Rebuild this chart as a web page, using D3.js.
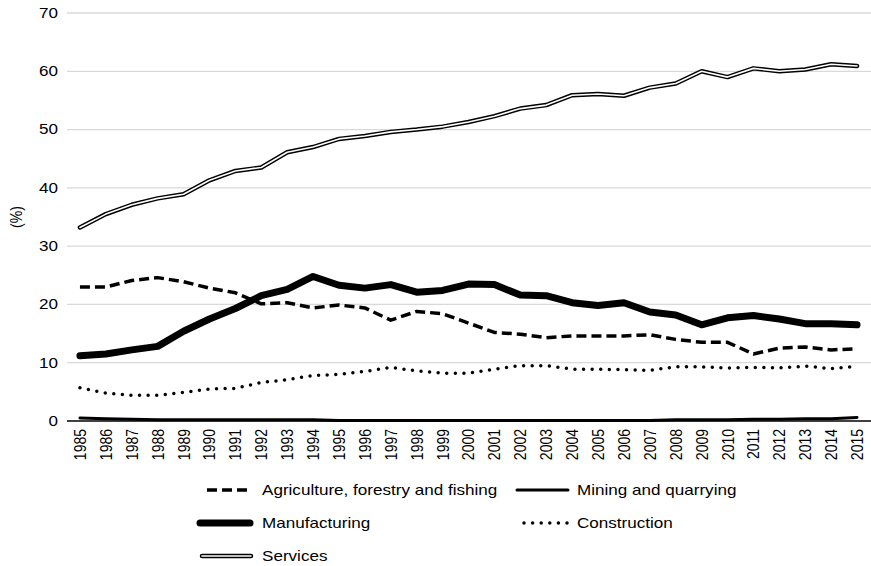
<!DOCTYPE html>
<html>
<head>
<meta charset="utf-8">
<script src="https://cdn.jsdelivr.net/npm/d3@7"></script>
<style>
  body { margin: 0; background: #fff; }
  text { font-family: "Liberation Sans", Arial, sans-serif; fill: #000; }
</style>
</head>
<body>
<div id="chart"></div>
<script>
var years = d3.range(1985, 2016).map(String);

var agriculture = [23.0, 23.0, 24.1, 24.6, 23.9, 22.8, 22.0, 20.1, 20.3, 19.4, 19.9, 19.4, 17.3, 18.8, 18.4, 16.8,
    15.2, 14.9, 14.3, 14.6, 14.6, 14.6, 14.8, 14.0, 13.5, 13.5, 11.5, 12.5, 12.7, 12.2, 12.4];
var mining = [0.5, 0.4, 0.3, 0.2, 0.2, 0.2, 0.2, 0.2, 0.2, 0.2, 0.1, 0.1, 0.1, 0.1, 0.1, 0.1,
    0.1, 0.1, 0.1, 0.1, 0.1, 0.1, 0.1, 0.2, 0.2, 0.2, 0.3, 0.3, 0.4, 0.4, 0.6];
var manufacturing = [11.2, 11.5, 12.2, 12.8, 15.4, 17.5, 19.3, 21.5, 22.6, 24.8, 23.3, 22.8, 23.4, 22.1, 22.4, 23.5,
    23.4, 21.6, 21.5, 20.3, 19.8, 20.3, 18.7, 18.2, 16.5, 17.7, 18.1, 17.5, 16.7, 16.7, 16.5];
var construction = [5.7, 4.8, 4.4, 4.4, 4.9, 5.5, 5.6, 6.6, 7.1, 7.8, 8.0, 8.5, 9.2, 8.6, 8.2, 8.2,
    8.9, 9.5, 9.5, 8.9, 8.9, 8.8, 8.7, 9.3, 9.3, 9.1, 9.2, 9.1, 9.4, 9.0, 9.4];
var services = [33.2, 35.5, 37.1, 38.2, 38.9, 41.3, 42.9, 43.5, 46.1, 47.0, 48.4, 48.9, 49.6, 50.0, 50.5, 51.3,
    52.3, 53.6, 54.2, 55.9, 56.1, 55.8, 57.2, 57.9, 60.0, 59.0, 60.5, 60.0, 60.3, 61.2, 60.9];
var yTicks = [0, 10, 20, 30, 40, 50, 60, 70];

var W = 871, H = 566;
var FS = 14, SX = 1.22; // the picture is stretched sideways a bit
var svg = d3.select("#chart").append("svg").attr("width", W).attr("height", H);

var x = d3.scalePoint().domain(years).range([67, 870]).padding(0.5);
var y = d3.scaleLinear().domain([0, 70]).range([421, 13]);

// gridlines
svg.append("g").selectAll("line").data(yTicks.slice(1)).join("line")
    .attr("x1", 67).attr("x2", 871)
    .attr("y1", d => y(d)).attr("y2", d => y(d))
    .attr("stroke", "#d9d9d9").attr("stroke-width", 1.3);

// y axis labels
svg.append("g").selectAll("text").data(yTicks).join("text")
    .attr("transform", d => "translate(58," + y(d) + ") scale(" + SX + ",1)")
    .attr("dy", "0.35em").attr("text-anchor", "end").attr("font-size", FS).text(d => d);

svg.append("text").attr("transform", "translate(16,217) scale(" + SX + ",1) rotate(-90)")
    .attr("text-anchor", "middle").attr("dy", "0.35em").attr("font-size", FS).text("(%)");

// x axis labels
svg.append("g").selectAll("text").data(years).join("text")
    .attr("transform", d => "translate(" + x(d) + ",429) scale(" + SX + ",1) rotate(-90)")
    .attr("text-anchor", "end").attr("dy", "0.35em").attr("font-size", FS).text(d => d);

var line = d3.line().x((d, i) => x(years[i])).y(d => y(d));

var styles = [
    {name: "Agriculture, forestry and fishing", data: agriculture, w: 3.5, dash: "10,5", cap: "butt"},
    {name: "Mining and quarrying", data: mining, w: 3, dash: null, cap: "round"},
    {name: "Manufacturing", data: manufacturing, w: 7, dash: null, cap: "round"},
    {name: "Construction", data: construction, w: 3.5, dash: "0,8.6", cap: "round"},
    {name: "Services", data: services, w: 4.5, dash: null, cap: "round", dbl: true}
];

function drawStroke(sel, s) {
    sel.attr("fill", "none").attr("stroke", "#000").attr("stroke-width", s.w)
        .attr("stroke-linecap", s.cap).attr("stroke-linejoin", "round");
    if (s.dash) sel.attr("stroke-dasharray", s.dash);
}

// x axis line
svg.append("line").attr("x1", 67).attr("x2", 871).attr("y1", y(0)).attr("y2", y(0))
    .attr("stroke", "#000").attr("stroke-width", 1.5);

styles.forEach(function (s) {
    svg.append("path").attr("d", line(s.data)).call(drawStroke, s);
    if (s.dbl) {
        svg.append("path").attr("d", line(s.data)).attr("fill", "none")
            .attr("stroke", "#fff").attr("stroke-width", 1.6)
            .attr("stroke-linecap", "round").attr("stroke-linejoin", "round");
    }
});

// legend
var legPos = [
    {lx1: 207, lx2: 252, tx: 262, ty: 490},
    {lx1: 517, lx2: 568, tx: 577, ty: 490},
    {lx1: 200, lx2: 250, tx: 262, ty: 523},
    {lx1: 524, lx2: 568, tx: 577, ty: 523},
    {lx1: 202, lx2: 251, tx: 262, ty: 556}
];
styles.forEach(function (s, i) {
    var p = legPos[i];
    var g = svg.append("g");
    g.append("line").attr("x1", p.lx1).attr("x2", p.lx2).attr("y1", p.ty).attr("y2", p.ty).call(drawStroke, s);
    if (s.dbl) {
        g.append("line").attr("x1", p.lx1).attr("x2", p.lx2).attr("y1", p.ty).attr("y2", p.ty)
            .attr("stroke", "#fff").attr("stroke-width", 1.6).attr("stroke-linecap", "round");
    }
    g.append("text").attr("transform", "translate(" + p.tx + "," + p.ty + ") scale(" + SX + ",1)")
        .attr("dy", "0.35em").attr("font-size", FS).text(s.name);
});
</script>
</body>
</html>
